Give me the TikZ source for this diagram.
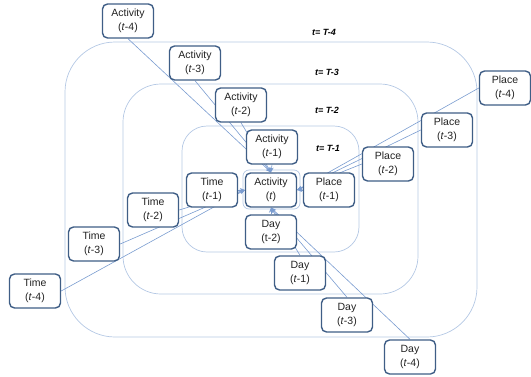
\documentclass[tikz,border=0pt]{standalone}
\usepackage{fontspec}
\setmainfont{Liberation Sans}
\usetikzlibrary{arrows.meta}
\pgfdeclarelayer{bg}
\pgfsetlayers{bg,main}
\definecolor{boxc}{HTML}{3F5E86}
\definecolor{linec}{HTML}{7A9CD0}
\definecolor{regc}{HTML}{B4C8E4}
\definecolor{txtc}{HTML}{222222}
\begin{document}
\begin{tikzpicture}[x=1pt,y=-1pt,
  var/.style={draw=boxc,line width=1.4pt,rounded corners=5pt,fill=white,
    minimum width=51pt,minimum height=34pt,align=center,inner sep=1pt,
    text=txtc,font=\fontsize{10.5}{13.5}\selectfont},
  region/.style={draw=regc,line width=0.7pt},
  lbl/.style={font=\fontsize{9}{11}\selectfont\bfseries\itshape},
  conn/.style={draw=linec,line width=0.6pt,-{Stealth[length=5pt,width=4pt]}}]
\useasboundingbox (0,0) rectangle (531,376);
% variable nodes
\node[var] (at) at (271,190) {Activity\\(\textit{t})};
\node[var] (a1) at (272,147) {Activity\\(\textit{t}-1)};
\node[var] (a2) at (241,105) {Activity\\(\textit{t}-2)};
\node[var] (a3) at (195,63) {Activity\\(\textit{t}-3)};
\node[var] (a4) at (128,21) {Activity\\(\textit{t}-4)};
\node[var] (t1) at (212,190) {Time\\(\textit{t}-1)};
\node[var] (t2) at (153,210) {Time\\(\textit{t}-2)};
\node[var] (t3) at (94,244) {Time\\(\textit{t}-3)};
\node[var] (t4) at (35,291) {Time\\(\textit{t}-4)};
\node[var] (p1) at (329,190) {Place\\(\textit{t}-1)};
\node[var] (p2) at (388,164) {Place\\(\textit{t}-2)};
\node[var] (p3) at (447,130) {Place\\(\textit{t}-3)};
\node[var] (p4) at (505,88) {Place\\(\textit{t}-4)};
\node[var] (d2) at (271,232) {Day\\(t-2)};
\node[var] (d1) at (300,273) {Day\\(\textit{t}-1)};
\node[var] (d3) at (347,315) {Day\\(\textit{t}-3)};
\node[var] (d4) at (410,357) {Day\\(\textit{t}-4)};
% region labels
\node[lbl] (l4) at (324,32) {t= T-4};
\node[lbl] (l3) at (327,72) {t= T-3};
\node[lbl] (l2) at (327,110) {t= T-2};
\node[lbl] (l1) at (328,148) {t= T-1};
\begin{pgfonlayer}{bg}
\draw[region,rounded corners=50pt] (65,42) rectangle (477,337);
\draw[region,rounded corners=38pt] (123,84) rectangle (418,294);
\draw[region,rounded corners=25pt] (182,126) rectangle (359,252);
\draw[region,rounded corners=6pt] (243,170) rectangle (300,209);
% connectors
\draw[conn] (a4.south) -- (at.north);
\draw[conn] (a3.south) -- (at.north);
\draw[conn] (a2.south) -- (at.north);
\draw[conn] (a1.south) -- (at.north);
\draw[conn] (t4.east) -- (at.west);
\draw[conn] (t3.east) -- (at.west);
\draw[conn] (t2.east) -- (at.west);
\draw[conn] (t1.east) -- (at.west);
\draw[conn] (p4.west) -- (at.east);
\draw[conn] (p3.west) -- (at.east);
\draw[conn] (p2.west) -- (at.east);
\draw[conn] (p1.west) -- (at.east);
\draw[conn] (d4.north) -- (at.south);
\draw[conn] (d3.north) -- (at.south);
\draw[conn] (d1.north) -- (at.south);
\draw[conn] (d2.north) -- (at.south);
\end{pgfonlayer}
\end{tikzpicture}
\end{document}
